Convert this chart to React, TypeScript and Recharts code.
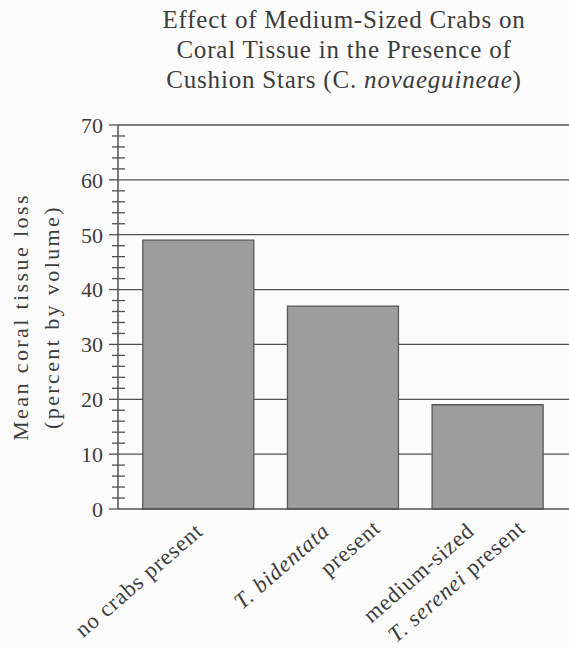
import React from 'react';
import { BarChart, Bar, XAxis, YAxis, CartesianGrid } from 'recharts';

const categories = ['no crabs present', 'T. bidentata present', 'medium-sized T. serenei present'];
const tissueLoss = [49, 37, 19];
const majorTicks = [0, 10, 20, 30, 40, 50, 60, 70];
const gridValues = [10, 20, 30, 40, 50, 60, 70];
const allTicks = [0, 2, 4, 6, 8, 10, 12, 14, 16, 18, 20, 22, 24, 26, 28, 30, 32, 34, 36, 38, 40, 42, 44, 46, 48, 50, 52, 54, 56, 58, 60, 62, 64, 66, 68, 70];
// each category label: lines, each line made of [text, italic]
const categoryLabelLines: [string, boolean][][][] = [
  [[['no crabs present', false]]],
  [[['T. bidentata', true]], [['present', false]]],
  [[['medium-sized', false]], [['T. serenei', true], [' present', false]]],
];
const titleLines = ['Effect of Medium-Sized Crabs on', 'Coral Tissue in the Presence of'];
const titleGenus = 'C.';
const titleSpecies = 'novaeguineae';
const yLabelLines = ['Mean coral tissue loss', '(percent by volume)'];

const data = categories.map((c, i) => ({ category: c, loss: tissueLoss[i] }));

const FONT = "'Liberation Serif', 'Times New Roman', serif";
const TEXT = '#3c3c3c';
const LINE = '#505050';
const Y_TICK_SIZE = 9;
const Y_TICK_MARGIN = 6;

const renderYTick = (props: any) => {
  const { x, y, payload } = props;
  const axisX = x + Y_TICK_SIZE + Y_TICK_MARGIN;
  const v = payload.value;
  const major = majorTicks.includes(v);
  return (
    <g>
      {major ? (
        <line x1={axisX - Y_TICK_SIZE} x2={axisX} y1={y} y2={y} stroke={LINE} strokeWidth={1.3} />
      ) : (
        <line x1={axisX - 6} x2={axisX + 7} y1={y} y2={y} stroke={LINE} strokeWidth={1.3} />
      )}
      {major && (
        <text x={x} y={y} dy="0.36em" textAnchor="end" fontFamily={FONT} fontSize={22} fill={TEXT}>
          {v}
        </text>
      )}
    </g>
  );
};

const renderXTick = (props: any) => {
  const { x, y, index } = props;
  const lines = categoryLabelLines[index] || [];
  const offsets = lines.length === 1 ? [6] : [-12, 39];
  const drops = lines.length === 1 ? [24] : [24, 21];
  return (
    <g>
      {lines.map((parts, li) => {
        const ax = x + offsets[li];
        const ay = y + drops[li];
        return (
          <text
            key={li}
            x={ax}
            y={ay}
            textAnchor="end"
            transform={`rotate(-41 ${ax} ${ay})`}
            fontFamily={FONT}
            fontSize={22.5}
            letterSpacing={0.9}
            fill={TEXT}
          >
            {parts.map(([t, it], pi) => (
              <tspan key={pi} fontStyle={it ? 'italic' : 'normal'}>
                {t}
              </tspan>
            ))}
          </text>
        );
      })}
    </g>
  );
};

const renderYLabel = (props: any) => {
  const vb = props.viewBox || { x: 0, y: 125, width: 118, height: 384 };
  const cy = vb.y + vb.height / 2;
  const xs = [vb.x + 20, vb.x + 51];
  return (
    <g>
      {yLabelLines.map((t, i) => (
        <text
          key={i}
          x={xs[i]}
          y={cy}
          dy="0.35em"
          textAnchor="middle"
          transform={`rotate(-90 ${xs[i]} ${cy})`}
          fontFamily={FONT}
          fontSize={22}
          letterSpacing={2.4}
          fill={TEXT}
        >
          {t}
        </text>
      ))}
    </g>
  );
};

export default function App() {
  return (
    <div
      style={{
        position: 'absolute',
        left: 0,
        top: 0,
        width: 569,
        height: 648,
        background: '#fbfbfb',
        overflow: 'hidden',
      }}
    >
      <div
        style={{
          position: 'absolute',
          left: 144,
          top: 5,
          width: 400,
          textAlign: 'center',
          fontFamily: FONT,
          fontSize: 25,
          lineHeight: '30px',
          letterSpacing: 0.8,
          color: TEXT,
          whiteSpace: 'nowrap',
        }}
      >
        <div>{titleLines[0]}</div>
        <div>{titleLines[1]}</div>
        <div>
          Cushion Stars ({titleGenus} <i>{titleSpecies}</i>)
        </div>
      </div>
      <div style={{ position: 'absolute', left: 0, top: 0 }}>
        <BarChart
          width={569}
          height={648}
          data={data}
          margin={{ top: 125, right: 0, bottom: 0, left: 0 }}
          barCategoryGap="11.6%"
        >
          <CartesianGrid horizontal vertical={false} horizontalValues={gridValues} stroke={LINE} strokeWidth={1.3} />
          <XAxis
            dataKey="category"
            height={139}
            padding={{ left: 8, right: 9 }}
            tickLine={false}
            tickSize={0}
            tickMargin={0}
            interval={0}
            axisLine={{ stroke: LINE, strokeWidth: 1.5 }}
            tick={renderXTick}
          />
          <YAxis
            type="number"
            domain={[0, 70]}
            ticks={allTicks}
            interval={0}
            width={118}
            tickLine={false}
            tickSize={Y_TICK_SIZE}
            tickMargin={Y_TICK_MARGIN}
            axisLine={{ stroke: LINE, strokeWidth: 1.5 }}
            tick={renderYTick}
            label={renderYLabel}
          />
          <Bar dataKey="loss" fill="#9d9d9d" stroke="#575757" strokeWidth={1.3} isAnimationActive={false} />
        </BarChart>
      </div>
    </div>
  );
}
